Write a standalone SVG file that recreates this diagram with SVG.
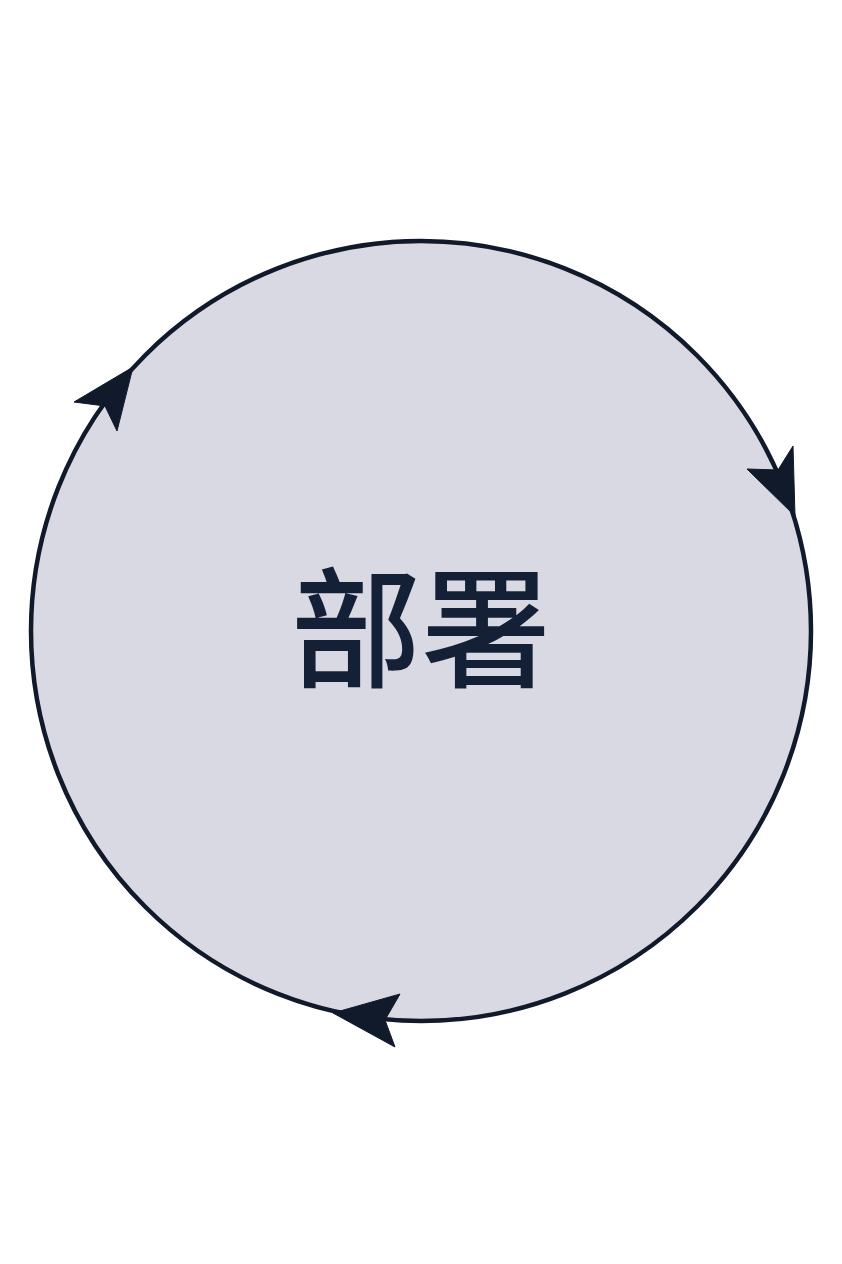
<svg xmlns="http://www.w3.org/2000/svg" width="842" height="1264" viewBox="0 0 842 1264">
<style>
.ring{fill:#d9d9e3;stroke:#111a2b;stroke-width:4.5}
.head{fill:#111a2b;stroke:#111a2b;stroke-width:1;stroke-linejoin:miter}
.lbl{font-family:"Noto Sans CJK SC","Noto Sans CJK JP",sans-serif;font-size:130px;font-weight:500;fill:#142036;text-anchor:middle}
</style>
<rect width="842" height="1264" fill="#ffffff"/>
<g id="node-deploy">
<circle class="ring" cx="421" cy="631" r="390"/>
<text class="lbl" x="421" y="677">部署</text>
</g>
<g id="connectors">
<polygon class="head" points="133,367 117,431 105,406 74,402"/>
<polygon class="head" points="795,516 747,469 778,470 793,446"/>
<polygon class="head" points="333,1013 400,994 385,1020 395,1047"/>
</g>
</svg>
